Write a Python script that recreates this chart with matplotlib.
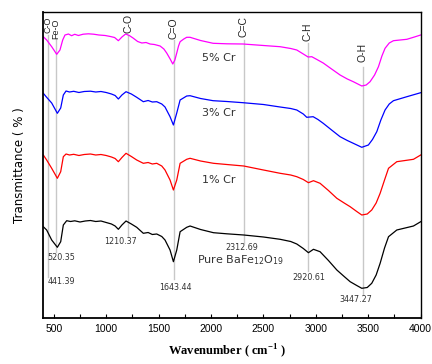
import matplotlib
matplotlib.use("Agg")
import matplotlib.pyplot as plt

plt.rcParams['font.family'] = ['Liberation Sans', 'DejaVu Sans']
plt.rcParams['mathtext.fontset'] = 'custom'
plt.rcParams['mathtext.rm'] = 'DejaVu Sans'
plt.rcParams['mathtext.bf'] = 'Liberation Serif:bold'

# spectra (wavenumber, transmittance in arbitrary units)
wn_5cr = [400, 432, 480, 528, 559, 585, 607, 640, 670, 700, 735, 780, 830, 880, 930, 990,
          1040, 1080, 1116, 1150, 1185, 1220, 1256, 1300, 1340, 1380, 1418, 1460, 1514,
          1550, 1577, 1610, 1635, 1655, 1673, 1690, 1705, 1740, 1768, 1800, 1900, 2020,
          2150, 2305, 2500, 2659, 2760, 2818, 2880, 2926, 2961, 3010, 3070, 3150, 3231,
          3300, 3357, 3438, 3480, 3517, 3560, 3597, 3630, 3660, 3700, 3740, 3868, 3940, 4000]
t_5cr = [281.3, 278, 271.3, 263.7, 268, 278, 283, 284, 282.3, 283.7, 282.5, 283.8, 284.2,
         283.8, 283, 282.5, 281.5, 280.5, 277.3, 281, 284, 282.5, 280, 276.5, 275, 275.5,
         274, 273.5, 272, 269, 265, 259, 254, 258, 265, 272, 276.3, 279, 280.7, 280.7,
         277.5, 274.7, 274.2, 274, 272.5, 271.3, 269.5, 268, 264, 261, 261.3, 258.5, 255,
         249, 243, 239, 236.3, 232, 233, 236.3, 243, 251.3, 262, 269.7, 275, 277.3, 278.7,
         281, 283]

wn_3cr = [400, 432, 480, 534, 566, 591, 617, 650, 690, 740, 790, 850, 900, 950, 1000, 1050,
          1085, 1116, 1150, 1189, 1240, 1291, 1354, 1400, 1440, 1482, 1530, 1561, 1609,
          1641, 1673, 1705, 1768, 1800, 1900, 2020, 2150, 2305, 2500, 2659, 2760, 2818,
          2880, 2913, 2974, 3020, 3070, 3150, 3231, 3300, 3357, 3438, 3501, 3540, 3581,
          3620, 3660, 3700, 3740, 3868, 4000]
t_3cr = [224.7, 220.7, 215, 204.7, 210, 223, 227, 226, 226.7, 225.5, 226.5, 226.8, 226,
         226.5, 225.5, 224, 222.5, 219, 223, 226.3, 224, 220.7, 216.3, 217.5, 216, 216.3,
         214, 211, 201.3, 193, 205, 218, 222, 222.3, 219.5, 217.3, 216.5, 215.3, 213.5, 211,
         209.5, 208, 204, 200.7, 201.3, 198.5, 194.7, 188, 181.3, 177.5, 174.7, 170.7, 173,
         178.5, 186.3, 198, 208, 214, 217.3, 221.3, 225.3]

wn_1cr = [400, 432, 480, 534, 566, 591, 617, 650, 690, 740, 790, 850, 900, 950, 1000, 1050,
          1085, 1116, 1150, 1189, 1240, 1291, 1354, 1400, 1440, 1482, 1530, 1561, 1609,
          1641, 1673, 1705, 1768, 1800, 1900, 2023, 2150, 2312, 2500, 2659, 2760, 2818,
          2880, 2929, 2977, 3040, 3120, 3200, 3270, 3327, 3390, 3438, 3490, 3533, 3575,
          3613, 3655, 3693, 3772, 3931, 4000]
t_1cr = [163, 158, 149.7, 139.7, 146.3, 161.3, 164, 163, 163.7, 162.5, 163.5, 164, 163,
         163.5, 162.5, 161, 159.5, 156.3, 160.5, 164.7, 161.5, 158, 154.7, 155.5, 154, 154.7,
         152, 148, 138, 128, 138, 154.7, 158.7, 159.7, 157, 154.7, 153.5, 152, 148, 144.7,
         143, 141.3, 138.5, 135.3, 137.3, 134.7, 127.5, 119.7, 115, 111.3, 106.5, 103, 104,
         108, 115, 124.7, 138, 149.7, 156.3, 158.7, 163]

wn_pure = [400, 432, 480, 534, 566, 591, 623, 660, 700, 750, 800, 850, 900, 950, 1000, 1050,
           1085, 1116, 1150, 1189, 1240, 1291, 1354, 1400, 1440, 1482, 1530, 1561, 1609,
           1641, 1673, 1705, 1768, 1800, 1900, 2023, 2150, 2312, 2500, 2659, 2760, 2818,
           2880, 2929, 2977, 3040, 3120, 3200, 3270, 3327, 3390, 3438, 3490, 3533, 3575,
           3613, 3655, 3693, 3772, 3931, 4000]
t_pure = [91.3, 88, 78, 70.7, 76.3, 93, 97.3, 96.5, 97.2, 96, 97, 97.5, 96.5, 97, 95.5, 94,
          92, 88.7, 93, 97, 94, 90.7, 84.7, 85.5, 83.5, 84, 81.5, 78, 68, 56.3, 68, 86.3,
          90.7, 92, 88.5, 85.3, 84.2, 83, 81, 78.7, 76.5, 74, 69.5, 65.3, 68.7, 66.3, 57.5,
          48, 41.5, 36.3, 32.5, 29.7, 30.5, 34.7, 43, 54.7, 70, 81.3, 88, 92, 96.3]

series = [("5% Cr", wn_5cr, t_5cr, "#ff00ff"),
          ("3% Cr", wn_3cr, t_3cr, "#0000ff"),
          ("1% Cr", wn_1cr, t_1cr, "#ff0000"),
          ("Pure", wn_pure, t_pure, "#000000")]

# band assignments
peaks = [441.39, 520.35, 1210.37, 1643.44, 2312.69, 2920.61, 3447.27]
peak_text = ["441.39", "520.35", "1210.37", "1643.44", "2312.69", "2920.61", "3447.27"]
bonds = ["C-O", "Fe-O", "C-O", "C=O", "C=C", "C-H", "O-H"]

# layout of guide lines and labels
line_top = [283, 280, 283, 278, 278, 275, 251]
line_bot = [41, 66, 81, 39, 75, 47, 24]
bond_y = [285, 279, 285, 279, 281, 277, 256]
bond_size = [6.5, 6.5, 7.5, 7.5, 7.5, 7.5, 7.5]
num_xy = [(569, 36), (569, 60), (1133, 76), (1657, 31), (2293, 70), (2928, 41), (3383, 18)]

fig = plt.figure(figsize=(4.32, 3.64), dpi=100)
ax = fig.add_axes([43.3 / 432, 46 / 364, 377.4 / 432, 306 / 364])

for i, p in enumerate(peaks):
    ax.plot([p, p], [line_bot[i], line_top[i]], color="#c8c8c8", lw=1.0, zorder=1)
    ax.text(p, bond_y[i], bonds[i], rotation=90, ha="center", va="bottom",
            fontsize=bond_size[i], color="#222222")
    ax.text(num_xy[i][0], num_xy[i][1], peak_text[i], ha="center", va="center",
            fontsize=5.8, color="#333333", family="DejaVu Sans")

for name, w, t, c in series:
    ax.plot(w, t, color=c, lw=0.9, zorder=2)

lab = dict(va="center", fontsize=8, color="#333333", family="DejaVu Sans")
ax.text(2078, 260, "5% Cr", ha="center", **lab)
ax.text(2078, 205, "3% Cr", ha="center", **lab)
ax.text(2078, 138, "1% Cr", ha="center", **lab)
ax.text(1865, 58, "Pure BaFe$_{12}$O$_{19}$", ha="left", **lab)

ax.set_xlim(400, 4000)
ax.set_ylim(0, 306)
ax.set_xticks([500, 1000, 1500, 2000, 2500, 3000, 3500, 4000])
ax.set_xticks(range(750, 4000, 500), minor=True)
ax.tick_params(axis="x", which="both", direction="in", length=3, width=0.8,
               labelsize=7.5, pad=4, top=False)
ax.set_yticks([])
for s in ax.spines.values():
    s.set_linewidth(1.0)
ax.spines["left"].set_linewidth(1.3)
ax.spines["bottom"].set_linewidth(1.3)

fig.text(20 / 432, 1 - 165 / 364, "Transmittance ( % )", rotation=90, ha="center",
         va="center", fontsize=8.5, family="DejaVu Sans")
fig.text(227 / 432, 1 - 351 / 364, r"Wavenumber ( cm$^{\mathbf{-1}}$ )", ha="center",
         va="center", fontsize=9, family="Liberation Serif", weight="bold")

fig.savefig("out.png", dpi=100)
